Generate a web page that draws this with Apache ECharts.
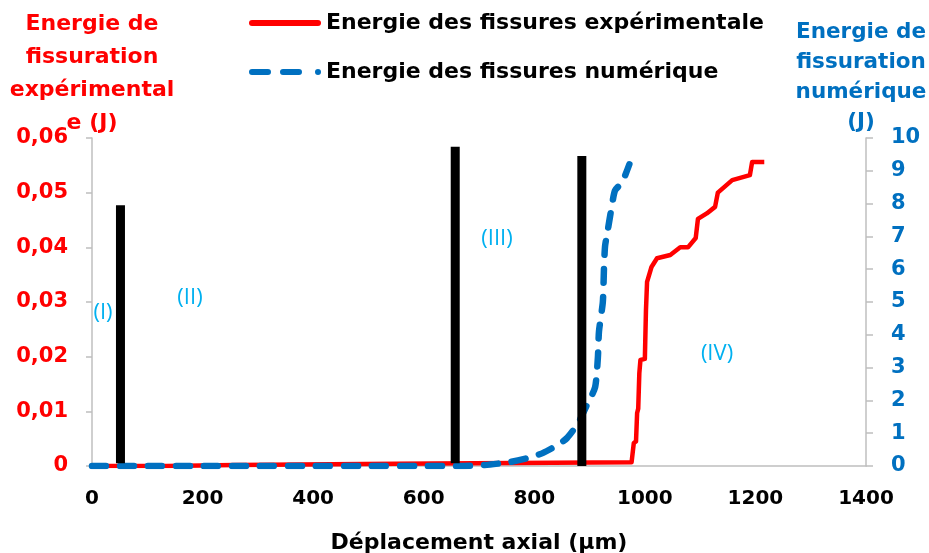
<!DOCTYPE html>
<html><head><meta charset="utf-8">
<script src="https://cdn.jsdelivr.net/npm/echarts@6/dist/echarts.min.js"></script>
<style>html,body{margin:0;padding:0;background:#fff}#c{width:929px;height:553px}</style>
</head><body><div id="c"></div>
<script>
// ---- data ----
const xTicks = [0, 200, 400, 600, 800, 1000, 1200, 1400];
const expX = [0, 135, 136, 259, 260, 550, 552, 976, 980, 984, 986, 988, 990, 992, 1000, 1002, 1004, 1012, 1022, 1046, 1064, 1078, 1092, 1096, 1112, 1127, 1132, 1158, 1190, 1194, 1216];
const expY = [0, 0, 0.0002, 0.0002, 0.0004, 0.0004, 0.0007, 0.0007, 0.0042, 0.0045, 0.0097, 0.0105, 0.017, 0.0194, 0.0196, 0.0285, 0.0337, 0.0364, 0.038, 0.0386, 0.0400, 0.0400, 0.0417, 0.0452, 0.0462, 0.0474, 0.0500, 0.0523, 0.0532, 0.0556, 0.0556];
const numX = [0, 100, 200, 300, 400, 500, 600, 666, 710, 756, 790, 816, 840, 859, 879, 895, 910, 915, 917, 924, 926, 928, 933, 940, 946, 959, 972];
const numY = [0, 0, 0, 0, 0, 0, 0, 0, 0.03, 0.12, 0.25, 0.4, 0.62, 0.85, 1.3, 1.85, 2.4, 3.3, 4.1, 5.0, 6.0, 6.7, 7.2, 7.9, 8.4, 8.65, 9.2];
const boundX = [51.5, 657, 886];
const boundTop = [0.0477, 0.0584, 0.0567];
const boundBottom = [0.0005, 0.0005, 0];
const regionLabels = ['(I)', '(II)', '(III)', '(IV)'];
const seriesNames = ['Energie des fissures expérimentale', 'Energie des fissures numérique'];

const F = 'DejaVu Sans';
const red = '#FF0000', blue = '#0070C0', light = '#00B0F0';

const redIcon = 'path://M3,0H69A3,3 0 0 1 69,6H3A3,3 0 0 1 3,0Z';
const blueIcon = 'path://M3,0H19A3,3 0 0 1 19,6H3A3,3 0 0 1 3,0Z M34,0H50A3,3 0 0 1 50,6H34A3,3 0 0 1 34,0Z M69,0A3,3 0 0 1 69,6A3,3 0 0 1 69,0Z';

const boundSeries = boundX.map((x, i) => ({
  type: 'line', yAxisIndex: 0, symbol: 'none', silent: true, z: 5,
  lineStyle: { color: '#000', width: 9, cap: 'butt' },
  data: [[x, boundBottom[i]], [x, boundTop[i]]]
}));

const chart = echarts.init(document.getElementById('c'));
chart.setOption({
  animation: false,
  backgroundColor: '#fff',
  grid: { left: 92, right: 63, top: 138, bottom: 87, containLabel: false, outerBoundsMode: 'none' },
  legend: {
    orient: 'vertical', left: 244, top: 7, itemGap: 27,
    itemWidth: 72, itemHeight: 6,
    data: [{ name: seriesNames[0], icon: redIcon }, { name: seriesNames[1], icon: blueIcon }],
    textStyle: { fontFamily: F, fontSize: 22, fontWeight: 'bold', color: '#000' }
  },
  xAxis: {
    type: 'value', min: 0, max: 1400, interval: 200,
    axisLine: { onZero: false, lineStyle: { color: '#bfbfbf', width: 1.5 } },
    axisTick: { show: false },
    splitLine: { show: false },
    axisLabel: { fontFamily: F, fontSize: 20, fontWeight: 'bold', color: '#000', margin: 23,
      formatter: v => xTicks.includes(v) ? String(v) : '' },
    name: 'Déplacement axial (µm)', nameLocation: 'middle', nameGap: 66,
    nameTextStyle: { fontFamily: F, fontSize: 22, fontWeight: 'bold', color: '#000' }
  },
  yAxis: [{
    type: 'value', min: 0, max: 0.06, interval: 0.01, position: 'left',
    axisLine: { show: true, onZero: false, lineStyle: { color: '#bfbfbf', width: 1.5 } },
    axisTick: { show: true, length: 6, lineStyle: { color: '#bfbfbf', width: 1.5 } },
    splitLine: { show: false },
    axisLabel: { fontFamily: F, fontSize: 21, fontWeight: 'bold', color: red, margin: 24,
      formatter: v => v === 0 ? '0' : v.toFixed(2).replace('.', ',') }
  }, {
    type: 'value', min: 0, max: 10, interval: 1, position: 'right',
    axisLine: { show: true, onZero: false, lineStyle: { color: '#bfbfbf', width: 1.5 } },
    axisTick: { show: true, length: 7, lineStyle: { color: '#bfbfbf', width: 1.5 } },
    splitLine: { show: false },
    axisLabel: { fontFamily: F, fontSize: 21, fontWeight: 'bold', color: blue, margin: 25 }
  }],
  series: [{
    name: seriesNames[0], type: 'line', yAxisIndex: 0, symbol: 'none', z: 3,
    color: red,
    lineStyle: { color: red, width: 4.5, join: 'round' },
    data: expX.map((x, i) => [x, expY[i]])
  }, {
    name: seriesNames[1], type: 'line', yAxisIndex: 1, symbol: 'none', z: 4, smooth: 0.2,
    color: blue,
    lineStyle: { color: blue, width: 6.5, type: [14, 14], cap: 'round' },
    data: numX.map((x, i) => [x, numY[i]])
  }].concat(boundSeries),
  graphic: [
    { type: 'text', x: 92, y: 8, style: { text: 'Energie de\nfissuration\nexpérimental\ne (J)', fill: red,
      font: 'bold 22px "DejaVu Sans"', align: 'center', lineHeight: 33 } },
    { type: 'text', x: 861, y: 17, style: { text: 'Energie de\nfissuration\nnumérique\n(J)', fill: blue,
      font: 'bold 21.5px "DejaVu Sans"', align: 'center', lineHeight: 30 } },
    { type: 'text', x: 103, y: 313, style: { text: regionLabels[0], fill: light, font: '22px "Open Sans"', align: 'center', verticalAlign: 'middle' } },
    { type: 'text', x: 190, y: 298, style: { text: regionLabels[1], fill: light, font: '22px "Open Sans"', align: 'center', verticalAlign: 'middle' } },
    { type: 'text', x: 497, y: 239, style: { text: regionLabels[2], fill: light, font: '22px "Open Sans"', align: 'center', verticalAlign: 'middle' } },
    { type: 'text', x: 717, y: 354, style: { text: regionLabels[3], fill: light, font: '22px "Open Sans"', align: 'center', verticalAlign: 'middle' } }
  ]
});
</script></body></html>
